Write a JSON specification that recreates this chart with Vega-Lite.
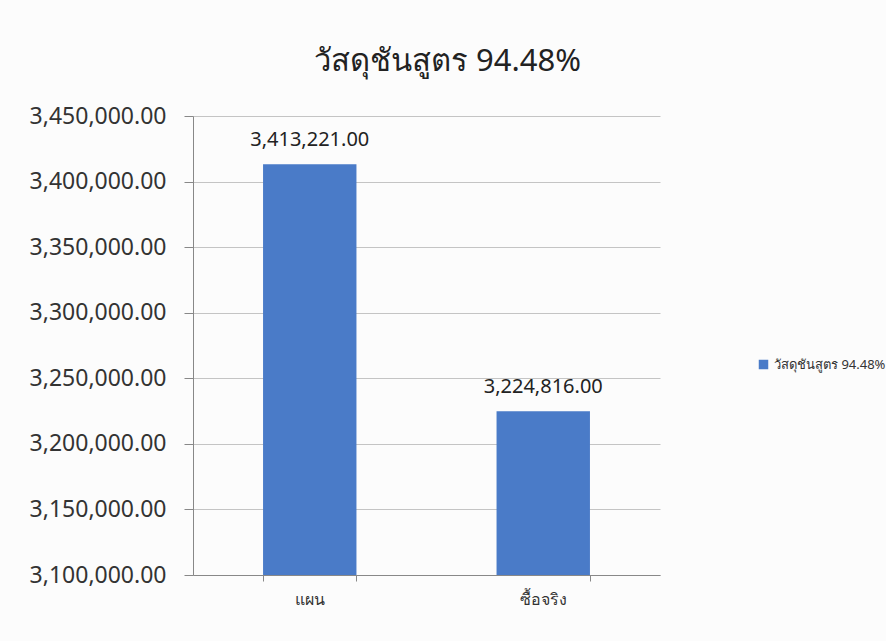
{
  "$schema": "https://vega.github.io/schema/vega-lite/v6.json",
  "autosize": "none",
  "width": 467,
  "height": 459,
  "padding": {"left": 193, "top": 116, "right": 226, "bottom": 66},
  "background": "#fcfcfc",
  "title": {
    "text": "วัสดุชันสูตร 94.48%",
    "fontSize": 31,
    "fontWeight": "normal",
    "color": "#222222",
    "font": "Noto Sans",
    "anchor": "middle",
    "dx": 21,
    "offset": 27
  },
  "data": {
    "values": [
      {"category": "แผน", "value": 3413221, "series": "วัสดุชันสูตร 94.48%"},
      {"category": "ซื้อจริง", "value": 3224816, "series": "วัสดุชันสูตร 94.48%"}
    ]
  },
  "config": {
    "view": {"stroke": null},
    "font": "Noto Sans"
  },
  "encoding": {
    "x": {
      "field": "category",
      "type": "nominal",
      "sort": null,
      "scale": {"paddingInner": 0.6, "paddingOuter": 0.3},
      "axis": {
        "title": null,
        "labelAngle": 0,
        "labelFontSize": 16,
        "labelColor": "#333333",
        "labelPadding": 10,
        "tickBand": "extent",
        "tickSize": 6,
        "tickColor": "#888888",
        "domainColor": "#888888",
        "grid": false
      }
    },
    "y": {
      "field": "value",
      "type": "quantitative",
      "scale": {"domain": [3100000, 3450000], "zero": false, "nice": false},
      "axis": {
        "title": null,
        "format": ",.2f",
        "values": [3100000, 3150000, 3200000, 3250000, 3300000, 3350000, 3400000, 3450000],
        "labelFontSize": 23,
        "labelColor": "#333333",
        "labelPadding": 18,
        "tickSize": 9,
        "tickColor": "#888888",
        "domainColor": "#888888",
        "gridColor": "#c4c4c4",
        "grid": true
      }
    }
  },
  "layer": [
    {
      "mark": {"type": "bar", "clip": true},
      "encoding": {
        "color": {
          "field": "series",
          "type": "nominal",
          "scale": {"range": ["#4A7BC8"]},
          "legend": {
            "title": null,
            "orient": "none",
            "legendX": 564,
            "legendY": 242,
            "symbolType": "square",
            "symbolSize": 90,
            "labelFontSize": 13,
            "labelColor": "#333333"
          }
        }
      }
    },
    {
      "mark": {"type": "text", "baseline": "bottom", "dy": -14, "fontSize": 20, "color": "#222222"},
      "encoding": {
        "text": {"field": "value", "type": "quantitative", "format": ",.2f"}
      }
    }
  ]
}
